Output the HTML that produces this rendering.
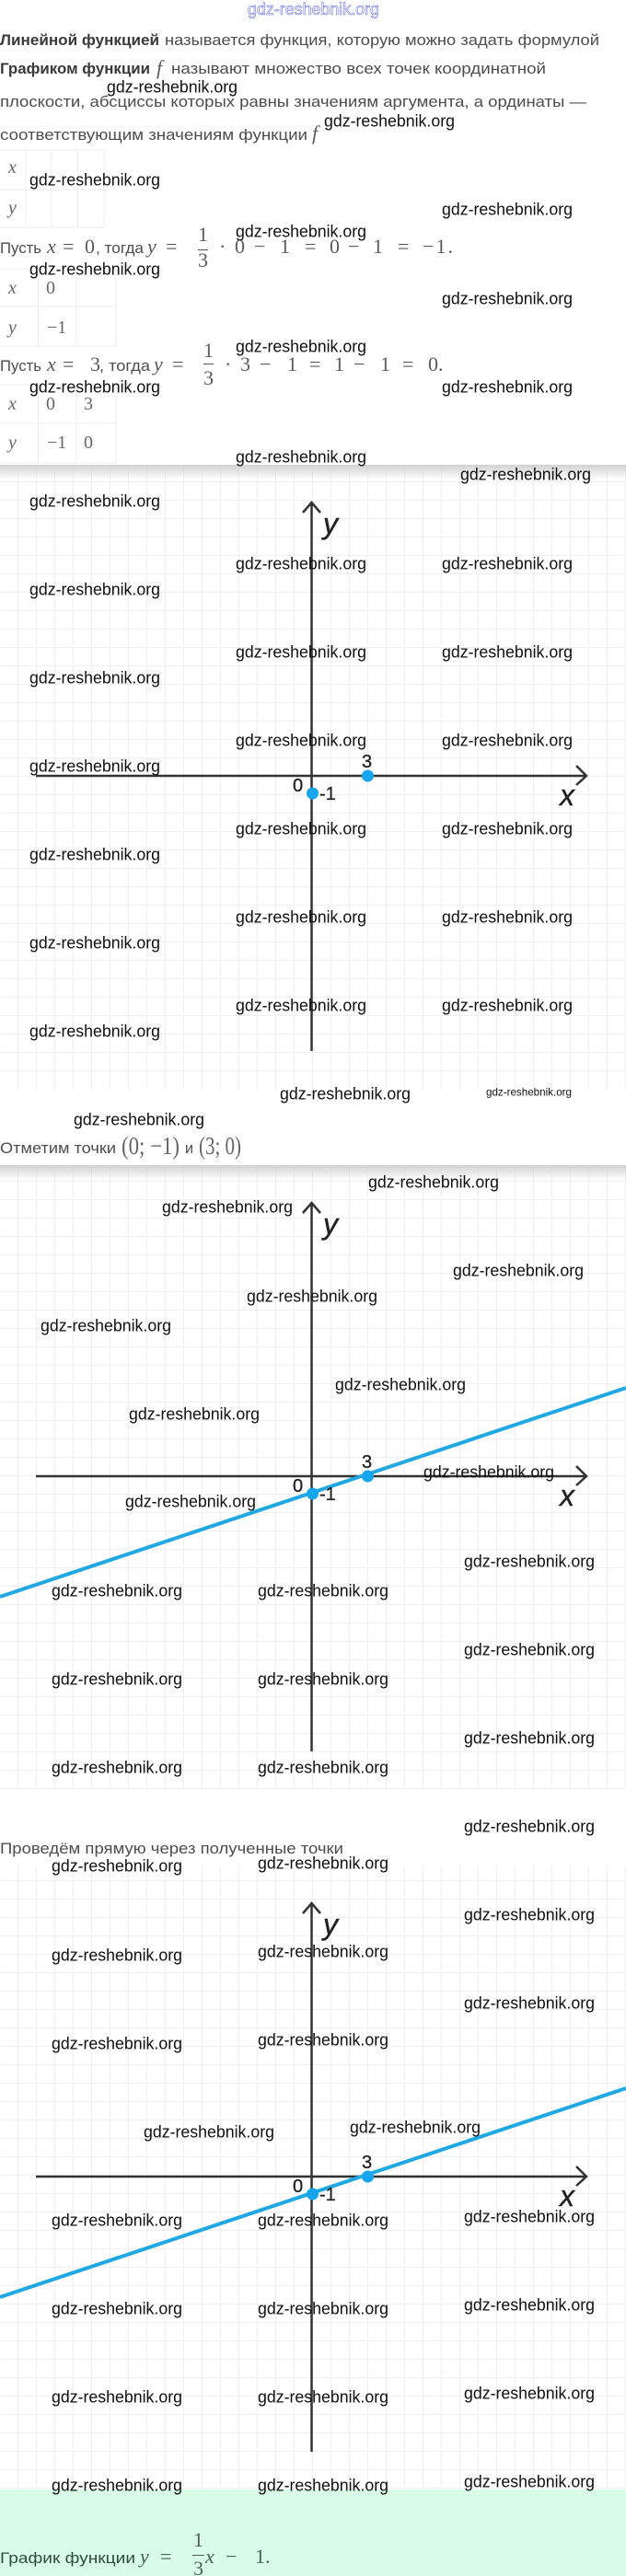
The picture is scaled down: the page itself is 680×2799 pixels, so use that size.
<!DOCTYPE html>
<html lang="ru">
<head>
<meta charset="utf-8">
<title>Линейная функция</title>
<style>
html,body{margin:0;padding:0;background:#fff;width:680px;height:2799px;overflow:hidden}
svg{display:block}
.t{font:17px "Liberation Sans",sans-serif;fill:#4d4d4d}
.b{font:bold 17px "Liberation Sans",sans-serif;fill:#3a3a3a}
.m{font:22px "Liberation Serif",serif;fill:#5a5a5a}
.p{font:27px "Liberation Serif",serif;fill:#666}
.s{font:20px "Liberation Serif",serif;fill:#666}
.w{font:18.5px "Liberation Sans",sans-serif;fill:#111}
.l{font:20px "Liberation Sans",sans-serif;fill:#222;stroke:#222;stroke-width:.3}
.a{font:italic 32px "Liberation Sans",sans-serif;fill:#222;stroke:#222;stroke-width:.4}
.g{font:17px "Liberation Sans",sans-serif;fill:#33493f}
.gm{font:22px "Liberation Serif",serif;fill:#4a5f55}
.i{font-style:italic}
</style>
</head>
<body>
<svg width="680" height="2799" viewBox="0 0 680 2799" xmlns="http://www.w3.org/2000/svg">
<defs>
<pattern id="grid" width="20" height="20" patternUnits="userSpaceOnUse" x="0" y="3">
<path d="M20 0V20M0 0H20" fill="none" stroke="#efefef" stroke-width="2"/>
</pattern>
<linearGradient id="sh" x1="0" y1="0" x2="0" y2="1">
<stop offset="0" stop-color="#d2d2d2"/><stop offset="1" stop-color="#d2d2d2" stop-opacity="0"/>
</linearGradient>
</defs>
<rect width="680" height="2799" fill="#fff"/>

<!-- top -->
<text x="269" y="16" font-family="Liberation Sans, sans-serif" font-size="18" fill="#fff" stroke="#5555dd" stroke-width=".5" textLength="143" lengthAdjust="spacingAndGlyphs">gdz-reshebnik.org</text>
<text class="b" x="0" y="49" textLength="173" lengthAdjust="spacingAndGlyphs">Линейной функцией</text>
<text class="t" x="179" y="49" textLength="472" lengthAdjust="spacingAndGlyphs">называется функция, которую можно задать формулой</text>
<text class="b" x="0" y="80" textLength="163" lengthAdjust="spacingAndGlyphs">Графиком функции</text>
<text class="m i" x="170" y="81">f</text>
<text class="t" x="186" y="80" textLength="407" lengthAdjust="spacingAndGlyphs">называют множество всех точек координатной</text>
<text class="t" x="0" y="116" textLength="637" lengthAdjust="spacingAndGlyphs">плоскости, абсциссы которых равны значениям аргумента, а ординаты —</text>
<text class="t" x="0" y="152" textLength="334" lengthAdjust="spacingAndGlyphs">соответствующим значениям функции</text>
<text class="m i" x="339" y="152">f</text>

<!-- tables -->
<path d="M0 163H113M0 206H113M0 247H113M28 163V247M56 163V247M84.500 163V247M113 163V247" fill="none" stroke="#ececec" stroke-width="1"/>
<text class="s i" x="9" y="188">x</text>
<text class="s i" x="9" y="232">y</text>

<path d="M0 292H126M0 333H126M0 376H126M41.500 292V376M83 292V376M126 292V376" fill="none" stroke="#ececec" stroke-width="1"/>
<text class="s i" x="9" y="319">x</text><text class="s" x="50" y="319">0</text>
<text class="s i" x="9" y="362">y</text><text class="s" x="51" y="362">−1</text>

<path d="M0 418H126M0 460H126M0 503H126M41.500 418V503M83 418V503M126 418V503" fill="none" stroke="#ececec" stroke-width="1"/>
<text class="s i" x="9" y="445">x</text><text class="s" x="50" y="445">0</text><text class="s" x="91" y="445">3</text>
<text class="s i" x="9" y="487">y</text><text class="s" x="51" y="487">−1</text><text class="s" x="91" y="487">0</text>

<!-- eq 1 -->
<text class="t" x="0" y="275" textLength="45" lengthAdjust="spacingAndGlyphs">Пусть</text>
<text class="m i" x="51" y="275">x</text><text class="m" x="68" y="275">=</text><text class="m" x="92" y="275">0</text>
<text class="t" x="104" y="275" textLength="52" lengthAdjust="spacingAndGlyphs">, тогда</text>
<text class="m i" x="160" y="275">y</text><text class="m" x="180" y="275">=</text>
<text class="m" x="215" y="262">1</text><rect x="215" y="271" width="11" height="1" fill="#555"/><text class="m" x="215" y="290">3</text>
<text class="m" x="238" y="275">·</text><text class="m" x="255" y="275">0</text><text class="m" x="276" y="275">−</text><text class="m" x="304" y="275">1</text>
<text class="m" x="331" y="275">=</text><text class="m" x="358" y="275">0</text><text class="m" x="378" y="275">−</text><text class="m" x="405" y="275">1</text>
<text class="m" x="432" y="275">=</text><text class="m" x="459" y="275" textLength="33">−1.</text>

<!-- eq 2 -->
<text class="t" x="0" y="403" textLength="45" lengthAdjust="spacingAndGlyphs">Пусть</text>
<text class="m i" x="51" y="403">x</text><text class="m" x="68" y="403">=</text><text class="m" x="98" y="403">3</text>
<text class="t" x="108" y="403" textLength="55" lengthAdjust="spacingAndGlyphs">, тогда</text>
<text class="m i" x="167" y="403">y</text><text class="m" x="187" y="403">=</text>
<text class="m" x="221" y="388">1</text><rect x="221" y="395" width="11" height="1" fill="#555"/><text class="m" x="221" y="418">3</text>
<text class="m" x="244" y="403">·</text><text class="m" x="261" y="403">3</text><text class="m" x="282" y="403">−</text><text class="m" x="312" y="403">1</text>
<text class="m" x="336" y="403">=</text><text class="m" x="363" y="403">1</text><text class="m" x="384" y="403">−</text><text class="m" x="413" y="403">1</text>
<text class="m" x="437" y="403">=</text><text class="m" x="465" y="403">0.</text>

<!-- graph 1 -->
<rect x="0" y="505" width="680" height="678" fill="url(#grid)"/>
<rect x="0" y="505" width="680" height="16" fill="url(#sh)"/>
<path d="M338.500 545V1142M39 843H637M329 557L338.500 546L348 557M626 832L637 843L626 853" fill="none" stroke="#333" stroke-width="2.500"/>
<circle cx="399.500" cy="843" r="6.500" fill="#17a6ee"/><circle cx="339.500" cy="862" r="6.500" fill="#17a6ee"/>
<text class="l" x="393" y="834">3</text><text class="l" x="318" y="860">0</text><text class="l" x="347" y="869">-1</text>
<text class="a" x="351" y="580">y</text><text class="a" x="608" y="875">x</text>

<text class="t" x="0" y="1253" textLength="126" lengthAdjust="spacingAndGlyphs">Отметим точки</text>
<text class="p" x="132" y="1254" textLength="63" lengthAdjust="spacingAndGlyphs">(0; −1)</text>
<text class="t" x="201" y="1253" textLength="9" lengthAdjust="spacingAndGlyphs">и</text>
<text class="p" x="216" y="1254" textLength="46" lengthAdjust="spacingAndGlyphs">(3; 0)</text>

<!-- graph 2 -->
<rect x="0" y="1266" width="680" height="678" fill="url(#grid)"/>
<rect x="0" y="1266" width="680" height="16" fill="url(#sh)"/>
<path d="M338.500 1306V1903M39 1604H637M329 1318L338.500 1307L348 1318M626 1593L637 1604L626 1614" fill="none" stroke="#333" stroke-width="2.500"/>
<path d="M0 1735L680 1508" stroke="#1fa8e2" stroke-width="4" fill="none"/>
<circle cx="399.500" cy="1604" r="6.500" fill="#17a6ee"/><circle cx="339.500" cy="1623" r="6.500" fill="#17a6ee"/>
<text class="l" x="393" y="1595">3</text><text class="l" x="318" y="1621">0</text><text class="l" x="347" y="1630">-1</text>
<text class="a" x="351" y="1341">y</text><text class="a" x="608" y="1636">x</text>

<text class="t" x="0" y="2014" textLength="373" lengthAdjust="spacingAndGlyphs">Проведём прямую через полученные точки</text>

<!-- graph 3 -->
<rect x="0" y="2027" width="680" height="678" fill="url(#grid)"/>
<path d="M338.500 2067V2664M39 2365H637M329 2079L338.500 2068L348 2079M626 2354L637 2365L626 2375" fill="none" stroke="#333" stroke-width="2.500"/>
<path d="M0 2496L680 2269" stroke="#1fa8e2" stroke-width="4" fill="none"/>
<circle cx="399.500" cy="2365" r="6.500" fill="#17a6ee"/><circle cx="339.500" cy="2384" r="6.500" fill="#17a6ee"/>
<text class="l" x="393" y="2356">3</text><text class="l" x="318" y="2382">0</text><text class="l" x="347" y="2391">-1</text>
<text class="a" x="351" y="2102">y</text><text class="a" x="608" y="2397">x</text>

<!-- green -->
<rect x="0" y="2705" width="680" height="94" fill="#d9fce9"/>
<text class="g" x="0" y="2785" textLength="147" lengthAdjust="spacingAndGlyphs">График функции</text>
<text class="gm i" x="152" y="2785">y</text><text class="gm" x="174" y="2785">=</text>
<text class="gm" x="210" y="2767">1</text><rect x="209" y="2776" width="13" height="1" fill="#4a5f55"/><text class="gm" x="210" y="2798">3</text>
<text class="gm i" x="223" y="2785">x</text><text class="gm" x="245" y="2785">−</text><text class="gm" x="277" y="2785">1.</text>

<!-- watermarks -->
<g class="wm" transform="translate(0,-0.5)">
<text class="w" textLength="142" lengthAdjust="spacingAndGlyphs" x="116" y="101">gdz-reshebnik.org</text>
<text class="w" textLength="142" lengthAdjust="spacingAndGlyphs" x="352" y="138">gdz-reshebnik.org</text>
<text class="w" textLength="142" lengthAdjust="spacingAndGlyphs" x="32" y="202">gdz-reshebnik.org</text>
<text class="w" textLength="142" lengthAdjust="spacingAndGlyphs" x="480" y="234">gdz-reshebnik.org</text>
<text class="w" textLength="142" lengthAdjust="spacingAndGlyphs" x="256" y="258">gdz-reshebnik.org</text>
<text class="w" textLength="142" lengthAdjust="spacingAndGlyphs" x="32" y="299">gdz-reshebnik.org</text>
<text class="w" textLength="142" lengthAdjust="spacingAndGlyphs" x="480" y="331">gdz-reshebnik.org</text>
<text class="w" textLength="142" lengthAdjust="spacingAndGlyphs" x="256" y="383">gdz-reshebnik.org</text>
<text class="w" textLength="142" lengthAdjust="spacingAndGlyphs" x="32" y="427">gdz-reshebnik.org</text>
<text class="w" textLength="142" lengthAdjust="spacingAndGlyphs" x="480" y="427">gdz-reshebnik.org</text>
<text class="w" textLength="142" lengthAdjust="spacingAndGlyphs" x="256" y="503">gdz-reshebnik.org</text>
<text class="w" textLength="142" lengthAdjust="spacingAndGlyphs" x="500" y="522">gdz-reshebnik.org</text>

<text class="w" textLength="142" lengthAdjust="spacingAndGlyphs" x="32" y="551">gdz-reshebnik.org</text>
<text class="w" textLength="142" lengthAdjust="spacingAndGlyphs" x="32" y="647">gdz-reshebnik.org</text>
<text class="w" textLength="142" lengthAdjust="spacingAndGlyphs" x="32" y="743">gdz-reshebnik.org</text>
<text class="w" textLength="142" lengthAdjust="spacingAndGlyphs" x="32" y="839">gdz-reshebnik.org</text>
<text class="w" textLength="142" lengthAdjust="spacingAndGlyphs" x="32" y="935">gdz-reshebnik.org</text>
<text class="w" textLength="142" lengthAdjust="spacingAndGlyphs" x="32" y="1031">gdz-reshebnik.org</text>
<text class="w" textLength="142" lengthAdjust="spacingAndGlyphs" x="32" y="1127">gdz-reshebnik.org</text>

<text class="w" textLength="142" lengthAdjust="spacingAndGlyphs" x="256" y="619">gdz-reshebnik.org</text>
<text class="w" textLength="142" lengthAdjust="spacingAndGlyphs" x="256" y="715">gdz-reshebnik.org</text>
<text class="w" textLength="142" lengthAdjust="spacingAndGlyphs" x="256" y="811">gdz-reshebnik.org</text>
<text class="w" textLength="142" lengthAdjust="spacingAndGlyphs" x="256" y="907">gdz-reshebnik.org</text>
<text class="w" textLength="142" lengthAdjust="spacingAndGlyphs" x="256" y="1003">gdz-reshebnik.org</text>
<text class="w" textLength="142" lengthAdjust="spacingAndGlyphs" x="256" y="1099">gdz-reshebnik.org</text>

<text class="w" textLength="142" lengthAdjust="spacingAndGlyphs" x="480" y="619">gdz-reshebnik.org</text>
<text class="w" textLength="142" lengthAdjust="spacingAndGlyphs" x="480" y="715">gdz-reshebnik.org</text>
<text class="w" textLength="142" lengthAdjust="spacingAndGlyphs" x="480" y="811">gdz-reshebnik.org</text>
<text class="w" textLength="142" lengthAdjust="spacingAndGlyphs" x="480" y="907">gdz-reshebnik.org</text>
<text class="w" textLength="142" lengthAdjust="spacingAndGlyphs" x="480" y="1003">gdz-reshebnik.org</text>
<text class="w" textLength="142" lengthAdjust="spacingAndGlyphs" x="480" y="1099">gdz-reshebnik.org</text>

<text class="w" textLength="142" lengthAdjust="spacingAndGlyphs" x="304" y="1195">gdz-reshebnik.org</text>
<text font-family="Liberation Sans, sans-serif" font-size="12" fill="#111" textLength="93" lengthAdjust="spacingAndGlyphs" x="528" y="1191">gdz-reshebnik.org</text>
<text class="w" textLength="142" lengthAdjust="spacingAndGlyphs" x="80" y="1223">gdz-reshebnik.org</text>

<text class="w" textLength="142" lengthAdjust="spacingAndGlyphs" x="400" y="1291">gdz-reshebnik.org</text>
<text class="w" textLength="142" lengthAdjust="spacingAndGlyphs" x="176" y="1318">gdz-reshebnik.org</text>
<text class="w" textLength="142" lengthAdjust="spacingAndGlyphs" x="492" y="1387">gdz-reshebnik.org</text>
<text class="w" textLength="142" lengthAdjust="spacingAndGlyphs" x="268" y="1415">gdz-reshebnik.org</text>
<text class="w" textLength="142" lengthAdjust="spacingAndGlyphs" x="44" y="1447">gdz-reshebnik.org</text>
<text class="w" textLength="142" lengthAdjust="spacingAndGlyphs" x="364" y="1511">gdz-reshebnik.org</text>
<text class="w" textLength="142" lengthAdjust="spacingAndGlyphs" x="140" y="1543">gdz-reshebnik.org</text>
<text class="w" textLength="142" lengthAdjust="spacingAndGlyphs" x="460" y="1606">gdz-reshebnik.org</text>
<text class="w" textLength="142" lengthAdjust="spacingAndGlyphs" x="136" y="1638">gdz-reshebnik.org</text>

<text class="w" textLength="142" lengthAdjust="spacingAndGlyphs" x="504" y="1703">gdz-reshebnik.org</text>
<text class="w" textLength="142" lengthAdjust="spacingAndGlyphs" x="504" y="1799">gdz-reshebnik.org</text>
<text class="w" textLength="142" lengthAdjust="spacingAndGlyphs" x="504" y="1895">gdz-reshebnik.org</text>
<text class="w" textLength="142" lengthAdjust="spacingAndGlyphs" x="504" y="1991">gdz-reshebnik.org</text>
<text class="w" textLength="142" lengthAdjust="spacingAndGlyphs" x="504" y="2087">gdz-reshebnik.org</text>
<text class="w" textLength="142" lengthAdjust="spacingAndGlyphs" x="504" y="2183">gdz-reshebnik.org</text>
<text class="w" textLength="142" lengthAdjust="spacingAndGlyphs" x="504" y="2415">gdz-reshebnik.org</text>
<text class="w" textLength="142" lengthAdjust="spacingAndGlyphs" x="504" y="2511">gdz-reshebnik.org</text>
<text class="w" textLength="142" lengthAdjust="spacingAndGlyphs" x="504" y="2607">gdz-reshebnik.org</text>
<text class="w" textLength="142" lengthAdjust="spacingAndGlyphs" x="504" y="2703">gdz-reshebnik.org</text>

<text class="w" textLength="142" lengthAdjust="spacingAndGlyphs" x="56" y="1735">gdz-reshebnik.org</text>
<text class="w" textLength="142" lengthAdjust="spacingAndGlyphs" x="56" y="1831">gdz-reshebnik.org</text>
<text class="w" textLength="142" lengthAdjust="spacingAndGlyphs" x="56" y="1927">gdz-reshebnik.org</text>
<text class="w" textLength="142" lengthAdjust="spacingAndGlyphs" x="56" y="2034">gdz-reshebnik.org</text>
<text class="w" textLength="142" lengthAdjust="spacingAndGlyphs" x="56" y="2131">gdz-reshebnik.org</text>
<text class="w" textLength="142" lengthAdjust="spacingAndGlyphs" x="56" y="2227">gdz-reshebnik.org</text>
<text class="w" textLength="142" lengthAdjust="spacingAndGlyphs" x="56" y="2419">gdz-reshebnik.org</text>
<text class="w" textLength="142" lengthAdjust="spacingAndGlyphs" x="56" y="2515">gdz-reshebnik.org</text>
<text class="w" textLength="142" lengthAdjust="spacingAndGlyphs" x="56" y="2611">gdz-reshebnik.org</text>
<text class="w" textLength="142" lengthAdjust="spacingAndGlyphs" x="56" y="2707">gdz-reshebnik.org</text>

<text class="w" textLength="142" lengthAdjust="spacingAndGlyphs" x="280" y="1735">gdz-reshebnik.org</text>
<text class="w" textLength="142" lengthAdjust="spacingAndGlyphs" x="280" y="1831">gdz-reshebnik.org</text>
<text class="w" textLength="142" lengthAdjust="spacingAndGlyphs" x="280" y="1927">gdz-reshebnik.org</text>
<text class="w" textLength="142" lengthAdjust="spacingAndGlyphs" x="280" y="2031">gdz-reshebnik.org</text>
<text class="w" textLength="142" lengthAdjust="spacingAndGlyphs" x="280" y="2127">gdz-reshebnik.org</text>
<text class="w" textLength="142" lengthAdjust="spacingAndGlyphs" x="280" y="2223">gdz-reshebnik.org</text>
<text class="w" textLength="142" lengthAdjust="spacingAndGlyphs" x="280" y="2419">gdz-reshebnik.org</text>
<text class="w" textLength="142" lengthAdjust="spacingAndGlyphs" x="280" y="2515">gdz-reshebnik.org</text>
<text class="w" textLength="142" lengthAdjust="spacingAndGlyphs" x="280" y="2611">gdz-reshebnik.org</text>
<text class="w" textLength="142" lengthAdjust="spacingAndGlyphs" x="280" y="2707">gdz-reshebnik.org</text>

<text class="w" textLength="142" lengthAdjust="spacingAndGlyphs" x="156" y="2323">gdz-reshebnik.org</text>
<text class="w" textLength="142" lengthAdjust="spacingAndGlyphs" x="380" y="2318">gdz-reshebnik.org</text>
</g>
</svg>
</body>
</html>
